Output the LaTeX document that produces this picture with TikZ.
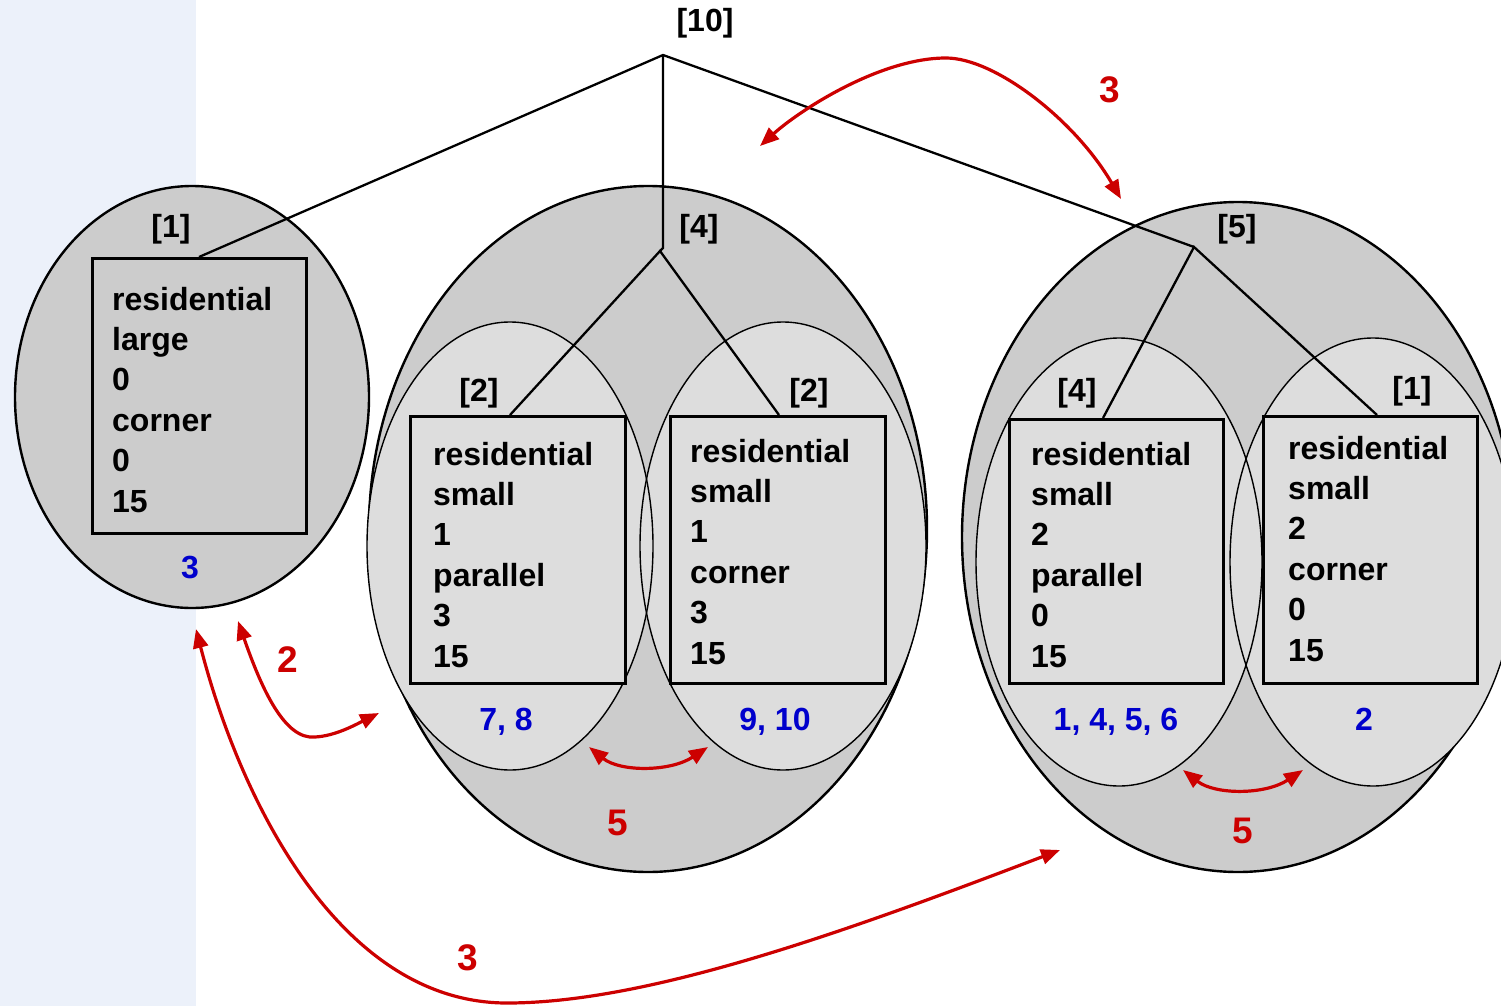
\documentclass[tikz,border=0pt]{standalone}
\usepackage{fontspec}
\setmainfont{Liberation Sans}
\usetikzlibrary{arrows.meta}
\definecolor{bandblue}{HTML}{ECF1FA}
\definecolor{shellgray}{HTML}{CCCCCC}
\definecolor{cellgray}{HTML}{DDDDDD}
\definecolor{linkred}{HTML}{CC0000}
\definecolor{countblue}{HTML}{0000CC}
\begin{document}
\begin{tikzpicture}[x=1pt,y=-1pt,
  every node/.style={font=\fontsize{32}{40.4}\selectfont\bfseries, inner sep=0pt},
  shell/.style={fill=shellgray, draw=black, line width=2.4pt},
  cellfill/.style={fill=cellgray},
  cellline/.style={draw=black, line width=1.4pt},
  attrbox/.style={draw=black, line width=2.8pt, rectangle, anchor=north west},
  branch/.style={draw=black, line width=2.3pt},
  count/.style={text=countblue, anchor=base},
  weight/.style={text=linkred, font=\fontsize{37}{40}\selectfont\bfseries},
  link/.style={draw=linkred, line width=3.2pt,
    {Triangle[length=19pt,width=15pt]}-{Triangle[length=19pt,width=15pt]}},
]
\useasboundingbox (0,0) rectangle (1501,1006);
\clip (0,0) rectangle (1501,1006);

% left margin band
\fill[bandblue] (0,0) rectangle (196,1006);

% ---------- group [1] ----------
\path[shell] (192,397) ellipse [x radius=177, y radius=211];
\node[attrbox, fill=shellgray, minimum width=214pt, minimum height=275pt] (b1) at (91,257) {};
\node[anchor=base west] (t1) at (112,310)
  {\vtop{\hbox{residential}\hbox{large}\hbox{0}\hbox{corner}\hbox{0}\hbox{15}}};

% ---------- group [4] ----------
\path[shell] (648,529) ellipse [x radius=279, y radius=343];
\path[cellfill] (510,546) ellipse [x radius=143, y radius=224];
\path[cellfill] (783,546) ellipse [x radius=143, y radius=224];
\path[cellline] (510,546) ellipse [x radius=143, y radius=224];
\path[cellline] (783,546) ellipse [x radius=143, y radius=224];
\node[attrbox, fill=cellgray, minimum width=215pt, minimum height=267pt] (b4l) at (409,415) {};
\node[attrbox, fill=cellgray, minimum width=215pt, minimum height=267pt] (b4r) at (669,415) {};
\node[anchor=base west] (t4l) at (433,465)
  {\vtop{\hbox{residential}\hbox{small}\hbox{1}\hbox{parallel}\hbox{3}\hbox{15}}};
\node[anchor=base west] (t4r) at (690,462)
  {\vtop{\hbox{residential}\hbox{small}\hbox{1}\hbox{corner}\hbox{3}\hbox{15}}};

% ---------- group [5] ----------
\path[shell] (1238,537) ellipse [x radius=276, y radius=335];
\path[cellfill] (1119,562) ellipse [x radius=143, y radius=224];
\path[cellfill] (1373,562) ellipse [x radius=143, y radius=224];
\path[cellline] (1119,562) ellipse [x radius=143, y radius=224];
\path[cellline] (1373,562) ellipse [x radius=143, y radius=224];
\node[attrbox, fill=cellgray, minimum width=214pt, minimum height=264pt] (b5l) at (1008,418) {};
\node[attrbox, fill=cellgray, minimum width=214pt, minimum height=267pt] (b5r) at (1262,415) {};
\node[anchor=base west] (t5l) at (1031,465)
  {\vtop{\hbox{residential}\hbox{small}\hbox{2}\hbox{parallel}\hbox{0}\hbox{15}}};
\node[anchor=base west] (t5r) at (1288,459)
  {\vtop{\hbox{residential}\hbox{small}\hbox{2}\hbox{corner}\hbox{0}\hbox{15}}};

% ---------- tree ----------
\coordinate (root) at (663,55);
\coordinate (j4top) at (663,248);
\coordinate (j4) at (660,251);
\coordinate (j5) at (1194,247);
\coordinate (e1) at (199,257);
\coordinate (e4l) at (510,415);
\coordinate (e4r) at (779,415);
\coordinate (e5l) at (1103,418);
\coordinate (e5r) at (1377,415);
\draw[branch] (e1) -- (root) -- (j5);
\draw[branch] (root) -- (j4top) -- (j4);
\draw[branch] (e4l) -- (j4) -- (e4r);
\draw[branch] (e5l) -- (j5) -- (e5r);

% ---------- size tags ----------
\node (n10) at (705,23) {[10]};
\node (n1) at (171,229) {[1]};
\node (n4) at (699,229) {[4]};
\node (n5) at (1237,229) {[5]};
\node (n4a) at (479,393) {[2]};
\node (n4b) at (809,393) {[2]};
\node (n5a) at (1077,393) {[4]};
\node (n5b) at (1412,391) {[1]};

% ---------- member lists (placed on their baselines) ----------
\node[count] (c1) at (190,578) {3};
\node[count] (c4l) at (506,730) {7, 8};
\node[count] (c4r) at (775,730) {9, 10};
\node[count] (c5l) at (1116,730) {1, 4, 5, 6};
\node[count] (c5r) at (1364,730) {2};

% ---------- distances ----------
\coordinate (a1) at (760,146);
\coordinate (a1top) at (946,58);
\coordinate (a2) at (1121,199);
\draw[link] (a1) .. controls (800,110) and (880,58) .. (a1top)
  .. controls (995,58) and (1075,120) .. (a2);
\node[weight] (w1) at (1110,90) {3};

\coordinate (b1tip) at (238,621);
\coordinate (b1low) at (315,737);
\coordinate (b2tip) at (379,713);
\draw[link] (b1tip) .. controls (262,690) and (285,740) .. (b1low)
  .. controls (335,736) and (355,725) .. (b2tip);
\node[weight] (w2) at (288,660) {2};

\coordinate (c1tip) at (196,629);
\coordinate (c1low) at (507,1003);
\coordinate (c2tip) at (1060,850);
\draw[link] (c1tip) .. controls (240,800) and (340,1003) .. (c1low)
  .. controls (650,1003) and (850,930) .. (c2tip);
\node[weight] (w3) at (468,958) {3};

\coordinate (d1) at (589,747);
\coordinate (d2) at (708,747);
\draw[link] (d1) .. controls (620,772) and (670,772) .. (d2);
\node[weight] (w4) at (618,823) {5};

\coordinate (f1) at (1183,770);
\coordinate (f2) at (1303,770);
\draw[link] (f1) .. controls (1215,795) and (1265,795) .. (f2);
\node[weight] (w5) at (1243,831) {5};
\end{tikzpicture}
\end{document}
